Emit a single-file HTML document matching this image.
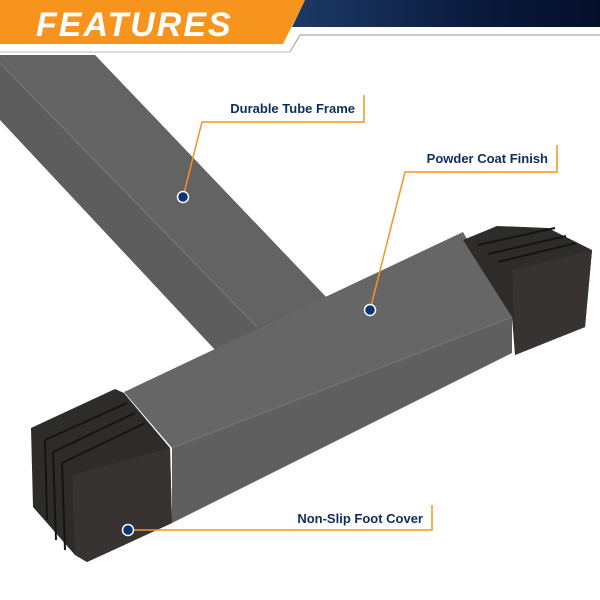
<!DOCTYPE html>
<html><head><style>
html,body{margin:0;padding:0;background:#fff;}
svg{display:block}
text{font-family:"Liberation Sans",sans-serif;font-weight:bold;}
</style></head><body>
<svg width="600" height="600" viewBox="0 0 600 600" xmlns="http://www.w3.org/2000/svg">
<defs>
<linearGradient id="nv" x1="0" x2="1"><stop offset="0" stop-color="#1d3a66"/><stop offset="0.6" stop-color="#0a1a3c"/><stop offset="1" stop-color="#050f2a"/></linearGradient>
</defs>
<rect width="600" height="600" fill="#fff"/>
<!-- vertical tube -->
<polygon points="0,55 95,55 327,298 217,352 0,120" fill="#5d5d5d"/>
<polygon points="0,63 0,55 95,55 327,298 257,327" fill="#636363"/>
<line x1="0" y1="63" x2="257" y2="327" stroke="#777" stroke-width="1.2"/>
<!-- header -->
<polygon points="0,0 305,0 283,44 0,44" fill="#f7941d"/>
<polygon points="305,0 600,0 600,27 292,27" fill="url(#nv)"/>
<polyline points="290,52 300,35 600,35" fill="none" stroke="#aaa" stroke-width="1.2"/>
<line x1="0" y1="52" x2="290" y2="52" stroke="#bbb" stroke-width="1"/>
<text x="36" y="36" font-size="34" font-style="italic" fill="#fff" letter-spacing="2" font-weight="normal">FEATURES</text>
<!-- crossbar -->
<polygon points="124,392 463,232 512,317 172,448" fill="#666"/>
<polygon points="172,448 512,317 512,353 172,523" fill="#5f5f5f"/>
<line x1="172" y1="448" x2="512" y2="317" stroke="#777" stroke-width="1"/>
<!-- left cap -->
<polygon points="31,428 115,389 124,393 170,448 172,523 87,562 75,555 33,507" fill="#2e2c2b"/>
<polygon points="72,475 170,448 172,523 87,562 75,555" fill="#363332"/>
<g stroke="#151413" stroke-width="2" fill="none">
<polyline points="45,440 127,403"/>
<polyline points="53,452 135,413"/>
<polyline points="62,463 145,423"/>
<line x1="45" y1="440" x2="47" y2="520"/>
<line x1="53" y1="452" x2="56" y2="540"/>
<line x1="62" y1="463" x2="65" y2="550"/>
</g>
<!-- right cap -->
<polygon points="463,240 497,226 548,228 592,250 585,327 515,355 512,317" fill="#2e2c2b"/>
<polygon points="512,270 592,250 585,327 515,355" fill="#363332"/>
<g stroke="#151413" stroke-width="2" fill="none">
<polyline points="478,245 555,228"/>
<polyline points="488,254 566,236"/>
<polyline points="498,262 576,243"/>
</g>
<!-- callouts -->
<g stroke="#f7941d" stroke-width="1.5" fill="none">
<polyline points="364,95 364,122 202,122 183,197"/>
<polyline points="557,145 557,172 405,172 370,310"/>
<polyline points="432,505 432,530 128,530"/>
</g>
<g fill="#0a3570" stroke="#fff" stroke-width="1.5">
<circle cx="183" cy="197" r="5.5"/>
<circle cx="370" cy="310" r="5.5"/>
<circle cx="128" cy="530" r="5.5"/>
</g>
<text x="355" y="113" font-size="13" fill="#0d2d5e" text-anchor="end">Durable Tube Frame</text>
<text x="548" y="163" font-size="13" fill="#0d2d5e" text-anchor="end">Powder Coat Finish</text>
<text x="423" y="523" font-size="13" fill="#0d2d5e" text-anchor="end">Non-Slip Foot Cover</text>
</svg>
</body></html>
